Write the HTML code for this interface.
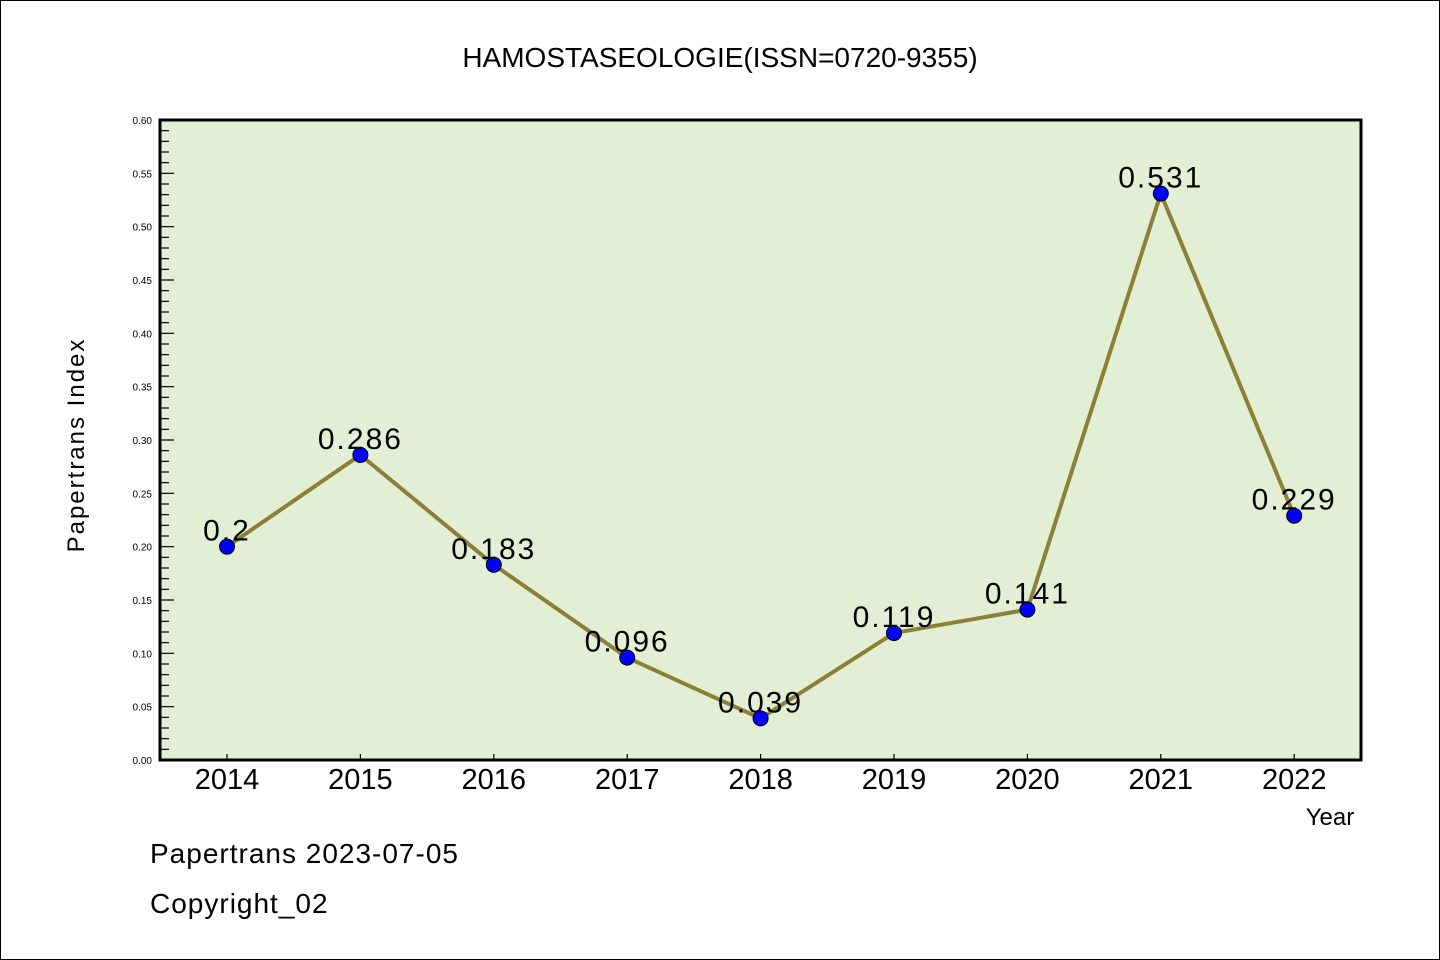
<!DOCTYPE html>
<html><head><meta charset="utf-8"><style>
html,body{margin:0;padding:0;background:#fff}
svg{display:block}
text{font-family:"Liberation Sans","Noto Sans CJK SC",sans-serif;fill:#000}
</style></head><body>
<svg id="chart" width="1440" height="960">
<rect x="0.5" y="0.5" width="1439" height="959" fill="#fff" stroke="#000"/>
<text x="720" y="67" text-anchor="middle" font-size="28">HAMOSTASEOLOGIE(ISSN=0720-9355)</text>
<rect x="160" y="120" width="1201" height="640" fill="#e2efd5"/>
<g id="yaxis"></g>
<g id="xaxis"></g>
<g id="series"></g>
<rect x="160" y="120" width="1201" height="640" fill="none" stroke="#000" stroke-width="3"/>
<text transform="translate(84,445) rotate(-90)" text-anchor="middle" font-size="24" letter-spacing="2">Papertrans Index</text>
<text x="1330" y="825" text-anchor="middle" font-size="24">Year</text>
<text x="150" y="863" font-size="28" letter-spacing="1">Papertrans 2023-07-05</text>
<text x="150" y="913" font-size="28" letter-spacing="1">Copyright_02</text>
</svg>
<script>
const years = ["2014","2015","2016","2017","2018","2019","2020","2021","2022"];
const values = [0.2,0.286,0.183,0.096,0.039,0.119,0.141,0.531,0.229];
const valueLabels = ["0.2","0.286","0.183","0.096","0.039","0.119","0.141","0.531","0.229"];
const yTicks = [0,0.05,0.1,0.15,0.2,0.25,0.3,0.35,0.4,0.45,0.5,0.55,0.6];

const NS="http://www.w3.org/2000/svg";
const L=160,R=1361,T=120,B=760,YMAX=0.6;
const x0=227,dx=133.4;
function xs(i){return x0+i*dx;}
function ys(v){return B-(v/YMAX)*(B-T);}
function mk(tag,attrs,parent){const e=document.createElementNS(NS,tag);for(const k in attrs)e.setAttribute(k,attrs[k]);parent.appendChild(e);return e;}

const ya=document.getElementById('yaxis');
for(let m=0;m<=60;m++){
  const v=m/100,y=ys(v),major=m%5===0;
  const t=mk('line',{x1:L,x2:L+(major?14:9),y1:y,y2:y,stroke:'#000','stroke-width':1.2},ya);
  
  
}
yTicks.forEach(v=>{
  const t=mk('text',{x:152,y:ys(v)+4,'text-anchor':'end','font-size':10},ya);
  t.textContent=v.toFixed(2);
  
  
});

const xa=document.getElementById('xaxis');
years.forEach((yr,i)=>{
  const t=mk('line',{x1:xs(i),x2:xs(i),y1:B,y2:B-6,stroke:'#000','stroke-width':1.2},xa);
  
  
  const l=mk('text',{x:xs(i),y:789,'text-anchor':'middle','font-size':29},xa);
  l.textContent=yr;
  
  
});

const sg=document.getElementById('series');
const pts=values.map((v,i)=>xs(i)+','+ys(v)).join(' ');
const line=mk('polyline',{points:pts,fill:'none',stroke:'#8b8036','stroke-width':4,'stroke-linejoin':'round'},sg);


values.forEach((v,i)=>{
  const c=mk('circle',{cx:xs(i),cy:ys(v),r:7.5,fill:'#0000ff',stroke:'#000','stroke-width':1},sg);
  
  
});
values.forEach((v,i)=>{
  const t=mk('text',{x:xs(i),y:ys(v)-6,'text-anchor':'middle','font-size':30,'letter-spacing':2},sg);
  t.textContent=valueLabels[i];
  
  
});
</script>
</body></html>
